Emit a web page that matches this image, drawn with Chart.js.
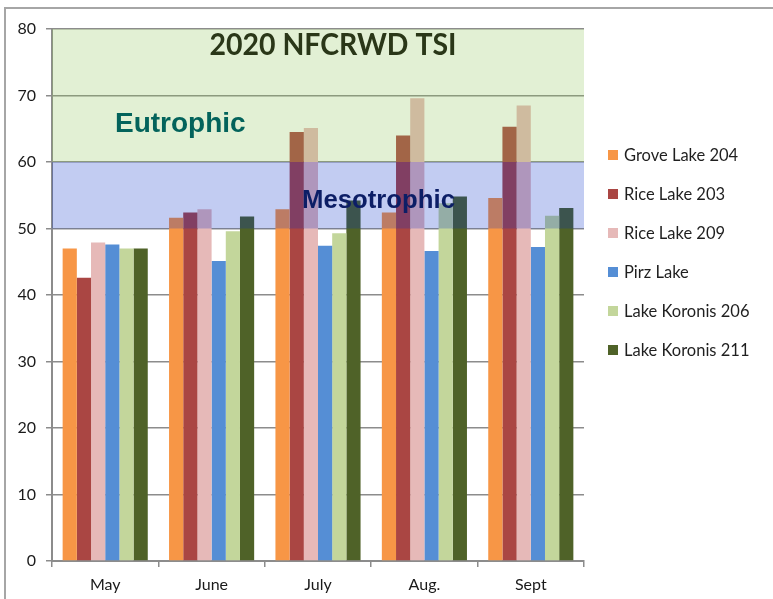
<!DOCTYPE html>
<html>
<head>
<meta charset="utf-8">
<script src="https://cdn.jsdelivr.net/npm/chart.js@4/dist/chart.umd.min.js"></script>
<style>
  html, body { margin: 0; padding: 0; background: #fff; overflow: hidden; }
  #wrap { position: relative; width: 773px; height: 599px; }
  #frame { position: absolute; left: 4px; top: 7px; width: 900px; height: 700px;
    border-top: 2px solid #a6a6a6; border-left: 2px solid #a6a6a6; }
  #tsiChart { position: absolute; left: 0; top: 0; }
  #legend { position: absolute; left: 608px; top: 135px; font-family: Lato, sans-serif;
    font-size: 16.5px; color: #1f1f1f; }
  #legend .item { height: 39px; display: flex; align-items: center; white-space: nowrap; }
  #legend .box { width: 10px; height: 10px; margin-right: 6px; }
</style>
</head>
<body>
<div id="wrap">
  <div id="frame"></div>
  <canvas id="tsiChart" width="773" height="599"></canvas>
  <div id="legend"></div>
</div>
<script>
// Data
const months = ["May", "June", "July", "Aug.", "Sept"]
const lakeNames = ["Grove Lake 204", "Rice Lake 203", "Rice Lake 209", "Pirz Lake", "Lake Koronis 206", "Lake Koronis 211"]
const groveLake204 = [47.0, 51.6, 52.9, 52.4, 54.6]
const riceLake203 = [42.6, 52.4, 64.5, 64.0, 65.3]
const riceLake209 = [47.9, 52.9, 65.1, 69.6, 68.5]
const pirzLake = [47.6, 45.1, 47.4, 46.6, 47.2]
const lakeKoronis206 = [47.0, 49.6, 49.3, 53.8, 51.9]
const lakeKoronis211 = [47.0, 51.8, 54.2, 54.8, 53.1]
const yTicks = [0, 10, 20, 30, 40, 50, 60, 70, 80]

// Trophic bands (TSI ranges)
const bandNames = ["Eutrophic", "Mesotrophic"]
const bandFrom = [60, 50]
const bandTo = [80, 60]

const seriesValues = [groveLake204, riceLake203, riceLake209, pirzLake, lakeKoronis206, lakeKoronis211]
const COLORS = ["#f79646", "#aa4643", "#e6b9b8", "#558ed5", "#c3d69b", "#4f6228"]
const BAND_COLORS = ["rgba(139, 196, 84, 0.25)", "rgba(0, 42, 200, 0.24)"]
const GRID = "#8c8c8c"

// Bands and their labels go over the bars, like in the original
const bandPlugin = {
  id: "trophicBands",
  afterDatasetsDraw(chart) {
    const { ctx, chartArea, scales } = chart
    const y = scales.y
    ctx.save()
    bandNames.forEach((name, i) => {
      const top = y.getPixelForValue(bandTo[i])
      const bottom = y.getPixelForValue(bandFrom[i])
      ctx.fillStyle = BAND_COLORS[i]
      ctx.fillRect(chartArea.left, top, chartArea.right - chartArea.left, bottom - top)
    })

    ctx.textBaseline = "alphabetic"
    ctx.textAlign = "left"
    ctx.fillStyle = "#03635b"
    ctx.font = "bold 28px 'Liberation Sans'"
    ctx.fillText(bandNames[0], chartArea.left + 63, y.getPixelForValue(64.5), 131)

    ctx.fillStyle = "#0c1e66"
    ctx.font = "bold 26.5px 'Liberation Sans'"
    ctx.fillText(bandNames[1], chartArea.left + 250, y.getPixelForValue(53.1), 153)

    ctx.fillStyle = "#2a3718"
    ctx.font = "bold 30px Lato"
    ctx.textAlign = "center"
    ctx.fillText("2020 NFCRWD TSI", chartArea.left + 281, y.getPixelForValue(76.1), 247)
    ctx.restore()
  },
}

const chart = new Chart(document.getElementById("tsiChart"), {
  type: "bar",
  data: {
    labels: months,
    datasets: lakeNames.map((name, i) => ({
      label: name,
      data: seriesValues[i],
      backgroundColor: COLORS[i],
      borderWidth: 0,
      categoryPercentage: 0.8,
      barPercentage: 1.0,
    })),
  },
  options: {
    responsive: false,
    animation: false,
    layout: {
      padding: { left: 0, top: 29, right: 189, bottom: 0 },
    },
    plugins: {
      legend: { display: false },
      tooltip: { enabled: false },
    },
    scales: {
      x: {
        afterFit: (scale) => { scale.height = 38 },
        grid: {
          display: true,
          drawOnChartArea: false,
          drawTicks: true,
          tickLength: 6,
          offset: true,
          color: GRID,
          lineWidth: 1.5,
        },
        border: { color: GRID, width: 2 },
        ticks: {
          color: "#1a1a1a",
          padding: 8,
          font: { family: "Lato", size: 16 },
        },
      },
      y: {
        min: 0,
        max: 80,
        afterFit: (scale) => { scale.width = 52 },
        afterBuildTicks: (scale) => { scale.ticks = yTicks.map((v) => ({ value: v })) },
        grid: {
          color: GRID,
          lineWidth: 1.5,
          tickLength: 6,
        },
        border: { color: GRID, width: 2 },
        ticks: {
          color: "#1a1a1a",
          padding: 10,
          font: { family: "Lato", size: 16 },
        },
      },
    },
  },
  plugins: [bandPlugin],
})

// Legend as HTML, built from the chart's datasets
const legendEl = document.getElementById("legend")
chart.data.datasets.forEach((ds) => {
  const item = document.createElement("div")
  item.className = "item"
  const box = document.createElement("span")
  box.className = "box"
  box.style.background = ds.backgroundColor
  const label = document.createElement("span")
  label.textContent = ds.label
  item.appendChild(box)
  item.appendChild(label)
  legendEl.appendChild(item)
})
</script>
</body>
</html>
